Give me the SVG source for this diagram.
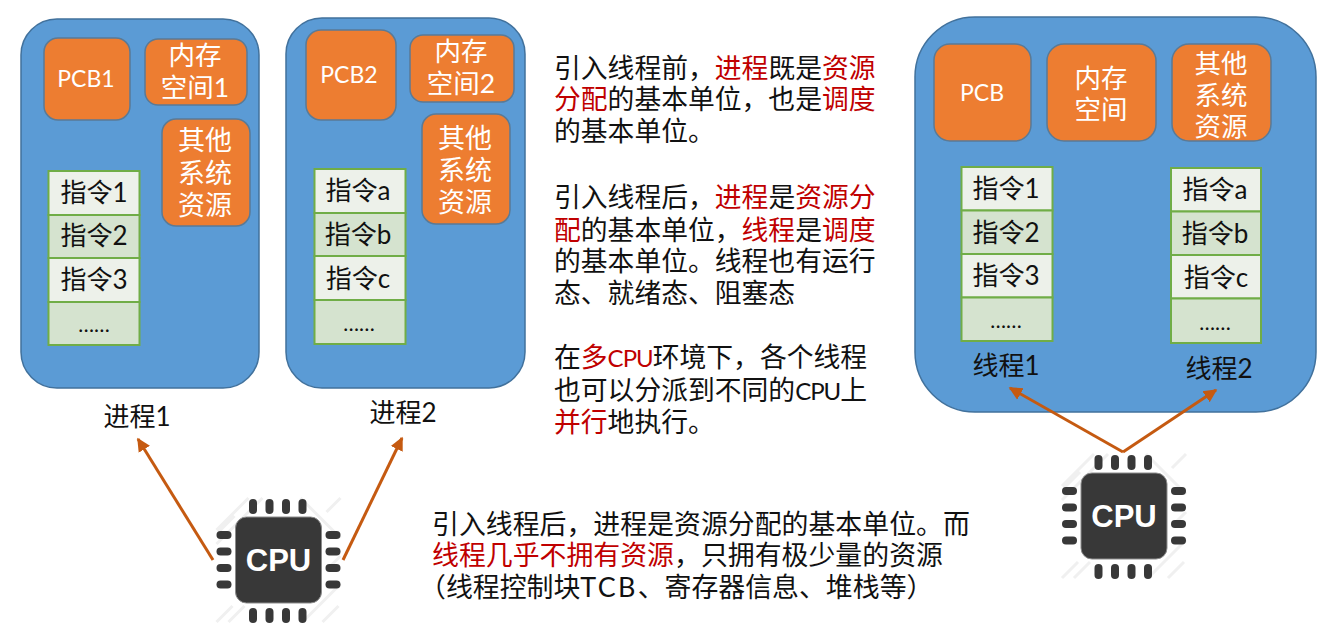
<svg xmlns="http://www.w3.org/2000/svg" width="1341" height="636" viewBox="0 0 1341 636">
<style>
text{font-family:"Lato","Noto Sans CJK SC",sans-serif;fill:#111}
.p{fill:#5b9bd5;stroke:#41719c;stroke-width:1.5}
.o{fill:#ed7d31;stroke:#5a7a96;stroke-width:1.5}
.l{fill:#edf1ea;stroke:#70ad47;stroke-width:2}
.d{fill:#d5e3cf;stroke:#70ad47;stroke-width:2}
.w{fill:#fff;text-anchor:middle}
.c{text-anchor:middle}
.t{font-size:26.8px}
.b{font-size:26.9px}
.r{fill:#c00000}
.n{font-size:24px;letter-spacing:-1px}
.a{fill:none;stroke:#c55a11;stroke-width:3;marker-end:url(#ah)}
.pin{fill:#383838}
.h{stroke:#f0f0f0;stroke-width:3}
</style>
<defs>
<marker id="ah" markerWidth="7" markerHeight="7" refX="4" refY="3" orient="auto" markerUnits="strokeWidth"><path d="M0,0.8L4.5,3L0,5.2z" fill="#c55a11"/></marker>
<g id="cpu">
<path class="h" d="M-44,-44L-60,-28M-16,-62L-62,-16M-30,-62L-62,-30M22,-62L62,-22M62,-62L48,-48M-62,62L-46,46M-50,62L-34,46M60,46L44,62M62,24L24,62M62,-4L50,8"/>
<rect x="-43" y="-43" width="86" height="86" rx="11" fill="#383838" stroke="#8c8c8c"/>
<g class="pin">
<rect x="-29.500" y="-61" width="8" height="15" rx="4"/><rect x="-13" y="-61" width="8" height="15" rx="4"/><rect x="3.500" y="-61" width="8" height="15" rx="4"/><rect x="20" y="-61" width="8" height="15" rx="4"/>
<rect x="-29.500" y="48" width="8" height="15" rx="4"/><rect x="-13" y="48" width="8" height="15" rx="4"/><rect x="3.500" y="48" width="8" height="15" rx="4"/><rect x="20" y="48" width="8" height="15" rx="4"/>
<rect x="-62" y="-29" width="15" height="8" rx="4"/><rect x="-62" y="-12.500" width="15" height="8" rx="4"/><rect x="-62" y="4" width="15" height="8" rx="4"/><rect x="-62" y="20.500" width="15" height="8" rx="4"/>
<rect x="47" y="-29" width="15" height="8" rx="4"/><rect x="47" y="-12.500" width="15" height="8" rx="4"/><rect x="47" y="4" width="15" height="8" rx="4"/><rect x="47" y="20.500" width="15" height="8" rx="4"/>
</g>
<text x="0" y="11" text-anchor="middle" style="font-family:'Liberation Sans',sans-serif;fill:#fff;font-weight:700;font-size:31px">CPU</text>
</g>
</defs>

<g id="process1">
<rect class="p" x="21" y="19" width="238" height="369" rx="36"/>
<rect class="o" x="44" y="38" width="86" height="82" rx="14"/><text class="w" x="86" y="87" font-size="23">PCB1</text>
<rect class="o" x="145" y="39" width="102" height="66" rx="13"/><text class="w" x="195" y="65" font-size="26.500">内存</text><text class="w" x="195" y="97" font-size="26.500">空间1</text>
<rect class="o" x="162" y="119" width="88" height="107" rx="14"/><text class="w" x="205" y="150" font-size="27">其他</text><text class="w" x="205" y="183" font-size="27">系统</text><text class="w" x="205" y="215" font-size="27">资源</text>
<rect class="l" x="48.500" y="171" width="91" height="44"/><text class="c" x="94" y="202" font-size="26">指令1</text>
<rect class="d" x="48.500" y="215" width="91" height="43"/><text class="c" x="94" y="245" font-size="26">指令2</text>
<rect class="l" x="48.500" y="258" width="91" height="44"/><text class="c" x="94" y="289" font-size="26">指令3</text>
<rect class="d" x="48.500" y="302" width="91" height="43"/><text class="c" x="94" y="332" font-size="21">……</text>
</g>
<g id="process2">
<rect class="p" x="286" y="18" width="239" height="370" rx="36"/>
<rect class="o" x="306" y="30" width="90" height="90" rx="15"/><text class="w" x="349" y="83" font-size="23">PCB2</text>
<rect class="o" x="410" y="35" width="104" height="67" rx="13"/><text class="w" x="461" y="61" font-size="26.500">内存</text><text class="w" x="461" y="93" font-size="26.500">空间2</text>
<rect class="o" x="422" y="114" width="88" height="110" rx="14"/><text class="w" x="465" y="148" font-size="27">其他</text><text class="w" x="465" y="180" font-size="27">系统</text><text class="w" x="465" y="212" font-size="27">资源</text>
<rect class="l" x="314.500" y="169" width="91" height="44"/><text class="c" x="358" y="200" font-size="26">指令a</text>
<rect class="d" x="314.500" y="213" width="91" height="43"/><text class="c" x="358" y="244" font-size="26">指令b</text>
<rect class="l" x="314.500" y="256" width="91" height="44"/><text class="c" x="358" y="288" font-size="26">指令c</text>
<rect class="d" x="314.500" y="300" width="91" height="44"/><text class="c" x="359" y="331" font-size="21">……</text>
</g>
<g id="process3">
<rect class="p" x="915" y="17" width="401" height="395" rx="60"/>
<rect class="o" x="934" y="44" width="97" height="97" rx="16"/><text class="w" x="982" y="101" font-size="23">PCB</text>
<rect class="o" x="1047" y="44" width="109" height="97" rx="17"/><text class="w" x="1101" y="88" font-size="26.500">内存</text><text class="w" x="1101" y="119" font-size="26.500">空间</text>
<rect class="o" x="1172" y="44" width="99" height="97" rx="17"/><text class="w" x="1221" y="73" font-size="26.500">其他</text><text class="w" x="1221" y="105" font-size="26.500">系统</text><text class="w" x="1221" y="136" font-size="26.500">资源</text>
<rect class="l" x="961.500" y="167" width="91" height="43.500"/><text class="c" x="1006" y="198" font-size="26">指令1</text>
<rect class="d" x="961.500" y="210.500" width="91" height="43.500"/><text class="c" x="1006" y="242" font-size="26">指令2</text>
<rect class="l" x="961.500" y="254" width="91" height="43.500"/><text class="c" x="1006" y="285" font-size="26">指令3</text>
<rect class="d" x="961.500" y="297.500" width="91" height="43.500"/><text class="c" x="1006" y="328" font-size="21">……</text>
<rect class="l" x="1171" y="168" width="90" height="43.500"/><text class="c" x="1215" y="199" font-size="26">指令a</text>
<rect class="d" x="1171" y="211.500" width="90" height="43.500"/><text class="c" x="1215" y="243" font-size="26">指令b</text>
<rect class="l" x="1171" y="255" width="90" height="43.500"/><text class="c" x="1216" y="287" font-size="26">指令c</text>
<rect class="d" x="1171" y="298.500" width="90" height="44.500"/><text class="c" x="1215" y="330" font-size="21">……</text>
<text class="c" x="1006" y="375" font-size="26">线程1</text>
<text class="c" x="1219" y="378" font-size="26">线程2</text>
</g>
<g id="label1"><text class="c" x="137" y="426" font-size="26">进程1</text></g>
<g id="label2"><text class="c" x="403" y="422" font-size="26">进程2</text></g>
<g id="cpu1"><use href="#cpu" x="278.500" y="560"/></g>
<g id="cpu2"><use href="#cpu" x="1124" y="516"/></g>
<g id="connectors">
<line class="a" x1="213" y1="560" x2="138" y2="439"/>
<line class="a" x1="343" y1="560" x2="402" y2="438"/>
<line class="a" x1="1123" y1="452" x2="1010" y2="388"/>
<line class="a" x1="1123" y1="452" x2="1216" y2="390"/>
</g>
<g id="text1">
<text class="t" x="554" y="78">引入线程前，<tspan class="r">进程</tspan>既是<tspan class="r">资源</tspan></text>
<text class="t" x="554" y="109"><tspan class="r">分配</tspan>的基本单位，也是<tspan class="r">调度</tspan></text>
<text class="t" x="554" y="141">的基本单位。</text>
<text class="t" x="554" y="207">引入线程后，<tspan class="r">进程</tspan>是<tspan class="r">资源分</tspan></text>
<text class="t" x="554" y="240"><tspan class="r">配</tspan>的基本单位，<tspan class="r">线程</tspan>是<tspan class="r">调度</tspan></text>
<text class="t" x="554" y="271">的基本单位。线程也有运行</text>
<text class="t" x="554" y="303">态、就绪态、阻塞态</text>
<text class="t" x="554" y="367">在<tspan class="r">多<tspan class="n">CPU</tspan></tspan>环境下，各个线程</text>
<text class="t" x="554" y="400">也可以分派到不同的<tspan class="n">CPU</tspan>上</text>
<text class="t" x="554" y="432"><tspan class="r">并行</tspan>地执行。</text>
</g>
<g id="text2">
<text class="b" x="432" y="534">引入线程后，进程是资源分配的基本单位。而</text>
<text class="b" x="432" y="565"><tspan class="r">线程几乎不拥有资源</tspan>，只拥有极少量的资源</text>
<text class="b" x="419" y="597">（线程控制块<tspan letter-spacing="2.300">TCB</tspan>、寄存器信息、堆栈等）</text>
</g>
</svg>
